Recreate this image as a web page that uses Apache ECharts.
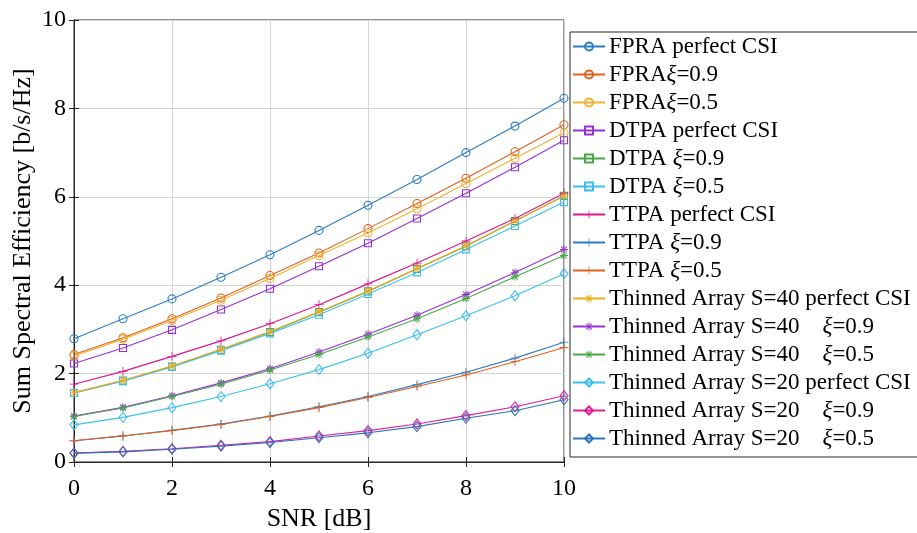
<!DOCTYPE html>
<html>
<head>
<meta charset="utf-8">
<script src="https://cdn.jsdelivr.net/npm/echarts@6/dist/echarts.min.js"></script>
<style>html,body{margin:0;padding:0;background:#fff;}#c{width:917px;height:533px;}</style>
</head>
<body>
<div id="c"></div>
<script>
const snr = [0, 1, 2, 3, 4, 5, 6, 7, 8, 9, 10];
const xTicks = [0, 2, 4, 6, 8, 10];
const yTicks = [0, 2, 4, 6, 8, 10];

const seriesNames = [
  'FPRA perfect CSI', 'FPRAξ=0.9', 'FPRAξ=0.5',
  'DTPA perfect CSI', 'DTPA ξ=0.9', 'DTPA ξ=0.5',
  'TTPA perfect CSI', 'TTPA ξ=0.9', 'TTPA ξ=0.5',
  'Thinned Array S=40 perfect CSI', 'Thinned Array S=40    ξ=0.9', 'Thinned Array S=40    ξ=0.5',
  'Thinned Array S=20 perfect CSI', 'Thinned Array S=20    ξ=0.9', 'Thinned Array S=20    ξ=0.5'
];

const fpraPerfect = [2.79, 3.24, 3.69, 4.18, 4.69, 5.24, 5.81, 6.39, 7.00, 7.60, 8.23];
const fpra09      = [2.43, 2.81, 3.24, 3.71, 4.22, 4.73, 5.28, 5.85, 6.42, 7.02, 7.63];
const fpra05      = [2.40, 2.78, 3.20, 3.66, 4.15, 4.67, 5.18, 5.73, 6.30, 6.87, 7.45];
const dtpaPerfect = [2.23, 2.58, 2.99, 3.45, 3.92, 4.43, 4.95, 5.51, 6.08, 6.67, 7.28];
const dtpa09      = [1.56, 1.84, 2.16, 2.54, 2.94, 3.39, 3.86, 4.37, 4.88, 5.45, 6.02];
const dtpa05      = [1.56, 1.83, 2.15, 2.52, 2.91, 3.33, 3.80, 4.29, 4.81, 5.34, 5.88];
const ttpaPerfect = [1.76, 2.05, 2.39, 2.74, 3.13, 3.56, 4.03, 4.50, 5.00, 5.51, 6.08];
const ttpa09      = [0.48, 0.59, 0.72, 0.86, 1.04, 1.25, 1.48, 1.75, 2.03, 2.35, 2.71];
const ttpa05      = [0.48, 0.59, 0.71, 0.85, 1.03, 1.23, 1.46, 1.71, 1.97, 2.27, 2.59];
const ta40Perfect = [1.57, 1.85, 2.17, 2.55, 2.95, 3.40, 3.87, 4.38, 4.89, 5.45, 6.02];
const ta40_09     = [1.04, 1.24, 1.50, 1.79, 2.11, 2.49, 2.89, 3.32, 3.79, 4.29, 4.81];
const ta40_05     = [1.03, 1.22, 1.48, 1.76, 2.08, 2.43, 2.83, 3.24, 3.70, 4.19, 4.67];
const ta20Perfect = [0.84, 1.01, 1.23, 1.48, 1.77, 2.09, 2.46, 2.88, 3.31, 3.76, 4.26];
const ta20_09     = [0.20, 0.24, 0.30, 0.38, 0.46, 0.59, 0.71, 0.86, 1.05, 1.25, 1.50];
const ta20_05     = [0.20, 0.23, 0.29, 0.36, 0.44, 0.55, 0.66, 0.80, 0.99, 1.16, 1.41];

const seriesValues = [
  fpraPerfect, fpra09, fpra05,
  dtpaPerfect, dtpa09, dtpa05,
  ttpaPerfect, ttpa09, ttpa05,
  ta40Perfect, ta40_09, ta40_05,
  ta20Perfect, ta20_09, ta20_05
];

const colors = [
  '#2b7cc4', '#e0601e', '#f0b330',
  '#9530d8', '#48a848', '#3dbff0',
  '#d8168e', '#2e7bc6', '#e0601e',
  '#efa91c', '#9530d8', '#48a848',
  '#3dbff0', '#e0209a', '#2e72bd'
];

const PLUS = 'path://M-0.09,-1L0.09,-1L0.09,-0.09L1,-0.09L1,0.09L0.09,0.09L0.09,1L-0.09,1L-0.09,0.09L-1,0.09L-1,-0.09L-0.09,-0.09Z';
const STAR = 'path://M-1,-0.12L1,-0.12L1,0.12L-1,0.12Z M-0.12,-1L0.12,-1L0.12,1L-0.12,1Z M-0.622,-0.792L0.792,0.622L0.622,0.792L-0.792,-0.622Z M-0.622,0.792L0.792,-0.622L0.622,-0.792L-0.792,0.622Z';
const markers = [
  ['circle', 8], ['circle', 8], ['circle', 8],
  ['rect', 7], ['rect', 7], ['rect', 7],
  [PLUS, 9], [PLUS, 9], [PLUS, 9],
  [STAR, 8], [STAR, 8], [STAR, 8],
  ['diamond', [8, 10]], ['diamond', [8, 10]], ['diamond', [8, 10]]
];

const FONT = '"Liberation Serif", "Times New Roman", serif';

const series = seriesNames.map((name, i) => {
  const filled = (markers[i][0] === PLUS || markers[i][0] === STAR);
  return {
    name: name,
    type: 'line',
    data: snr.map((x, k) => [x, seriesValues[i][k]]),
    symbol: markers[i][0],
    symbolSize: markers[i][1],
    showAllSymbol: true,
    lineStyle: { color: colors[i], width: 1.1 },
    itemStyle: filled
      ? { color: colors[i], borderWidth: 0 }
      : { color: 'rgba(255,255,255,0)', borderColor: colors[i], borderWidth: 1.1 },
    emphasis: { disabled: true },
    animation: false,
    z: 2 + i * 0.01
  };
});

const chart = echarts.init(document.getElementById('c'), null, { renderer: 'canvas' });
chart.setOption({
  backgroundColor: '#ffffff',
  animation: false,
  grid: { left: 74, right: 353, top: 20, bottom: 71, containLabel: false, outerBoundsMode: 'none', show: true, borderColor: '#262626', borderWidth: 1, backgroundColor: '#fff' },
  xAxis: [{
    type: 'value', min: xTicks[0], max: xTicks[xTicks.length - 1], interval: 2,
    name: 'SNR [dB]', nameLocation: 'middle', nameGap: 44,
    nameTextStyle: { fontFamily: FONT, fontSize: 26, color: '#000' },
    axisLine: { show: true, lineStyle: { color: '#262626', width: 1 } },
    axisTick: { show: true, inside: true, length: 5, lineStyle: { color: '#262626' } },
    axisLabel: { fontFamily: FONT, fontSize: 24, color: '#000', margin: 15 },
    splitLine: { show: true, lineStyle: { color: '#d4d4d4', width: 1 } }
  }, {
    type: 'value', position: 'top', min: 0, max: 10, interval: 2,
    axisLine: { show: true, lineStyle: { color: '#262626' } },
    axisTick: { show: true, inside: true, length: 5, lineStyle: { color: '#262626' } },
    axisLabel: { show: false }, splitLine: { show: false }
  }],
  yAxis: [{
    type: 'value', min: yTicks[0], max: yTicks[yTicks.length - 1], interval: 2,
    name: 'Sum Spectral Efficiency [b/s/Hz]', nameLocation: 'middle', nameGap: 38,
    nameMoveOverlap: false,
    nameTextStyle: { fontFamily: FONT, fontSize: 26, color: '#000' },
    axisLine: { show: true, lineStyle: { color: '#262626', width: 1 } },
    axisTick: { show: true, inside: true, length: 5, lineStyle: { color: '#262626' } },
    axisLabel: { fontFamily: FONT, fontSize: 24, color: '#000', margin: 8 },
    splitLine: { show: true, lineStyle: { color: '#d4d4d4', width: 1 } }
  }, {
    type: 'value', position: 'right', min: 0, max: 10, interval: 2,
    axisLine: { show: true, lineStyle: { color: '#262626' } },
    axisTick: { show: true, inside: true, length: 5, lineStyle: { color: '#262626' } },
    axisLabel: { show: false }, splitLine: { show: false }
  }],
  legend: {
    orient: 'vertical',
    left: 570, top: 32,
    padding: [3, 80, 7, 2],
    itemGap: 5,
    itemWidth: 32, itemHeight: 10,
    borderColor: '#262626', borderWidth: 1,
    backgroundColor: '#ffffff',
    data: seriesNames,
    formatter: (n) => n.replace('ξ', '{i|ξ}'),
    textStyle: {
      fontFamily: FONT, fontSize: 23, color: '#000', lineHeight: 20, padding: [0, 0, 0, -1],
      rich: { i: { fontFamily: FONT, fontStyle: 'italic', fontSize: 23, color: '#000', lineHeight: 20 } }
    },
    selectedMode: false
  },
  series: series
});
</script>
</body>
</html>
